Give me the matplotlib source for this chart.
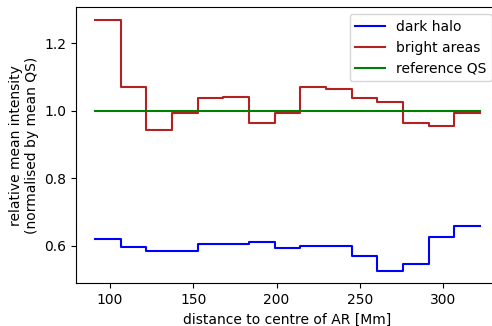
import numpy as np
import matplotlib
matplotlib.use("Agg")
import matplotlib.pyplot as plt

# bin edges in Mm from the AR centre
edges = np.array([91.3, 106.7, 122.0, 137.4, 152.8, 168.2, 183.5, 198.9,
                  214.3, 229.7, 245.0, 260.4, 275.8, 291.2, 306.5, 321.9])

# mean intensity per bin, normalised by mean quiet Sun
dark_halo = np.array([0.621, 0.596, 0.585, 0.584, 0.604, 0.606, 0.612, 0.595,
                      0.599, 0.600, 0.570, 0.526, 0.545, 0.627, 0.660])
bright_areas = np.array([1.269, 1.070, 0.942, 0.992, 1.037, 1.040, 0.964, 0.994,
                         1.070, 1.064, 1.037, 1.026, 0.965, 0.956, 0.994])
reference_qs = np.ones(len(edges))

fig = plt.figure(figsize=(4.92, 3.26), dpi=100)
ax = fig.add_axes([0.1545, 0.1307, 0.8598, 0.8469])

ax.plot(edges, np.append(dark_halo, dark_halo[-1]), drawstyle='steps-post',
        color='blue', lw=1.5, label='dark halo')
ax.plot(edges, np.append(bright_areas, bright_areas[-1]), drawstyle='steps-post',
        color='firebrick', lw=1.5, label='bright areas')
ax.plot(edges, reference_qs, color='green', lw=1.5, label='reference QS')

ax.set_xticks([100, 150, 200, 250, 300])
ax.set_yticks([0.6, 0.8, 1.0, 1.2])
ax.set_xlabel('distance to centre of AR [Mm]')
ax.set_ylabel('relative mean intensity\n(normalised by mean QS)')
ax.legend(loc='upper right', handlelength=2.15)

fig.savefig('out.png', dpi=100)
